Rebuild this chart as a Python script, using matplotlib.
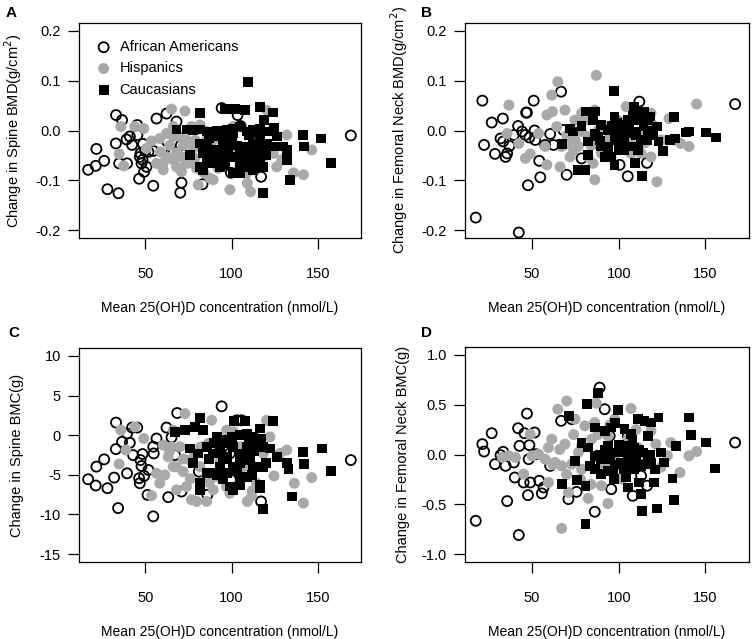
import matplotlib
matplotlib.use("Agg")
import matplotlib.pyplot as plt

plt.rcParams['font.family'] = ['Liberation Sans', 'DejaVu Sans']
plt.rcParams['axes.unicode_minus'] = False

# ---- panel A: change in spine BMD ----
aa_x_a = [16.7, 21.1, 21.5, 26.0, 27.9, 32.9, 32.8, 34.3, 34.7, 36.4, 39.0, 39.3, 40.9, 42.2,
          45.2, 45.3, 46.7, 46.3, 47.1, 47.7, 48.3, 49.2, 48.6, 49.8, 50.6, 51.7, 54.5, 54.5,
          56.4, 62.2, 62.6, 65.1, 66.5, 68.0, 70.9, 70.2, 70.5, 83.1, 94.2, 99.6, 105.2, 103.5,
          117.1, 169.2]
aa_y_a = [-0.079, -0.071, -0.037, -0.061, -0.118, 0.031, -0.026, -0.126, -0.066, 0.021, -0.018,
          -0.066, -0.012, -0.029, 0.011, -0.009, -0.053, -0.097, -0.046, -0.066, -0.059, -0.083,
          -0.027, -0.041, -0.073, -0.043, -0.041, -0.111, 0.024, 0.034, -0.022, -0.044, -0.043,
          0.018, -0.105, -0.125, -0.030, -0.108, 0.045, -0.085, 0.009, 0.031, -0.093, -0.010]
hi_x_a = [35.7, 34.7, 37.4, 43.8, 49.0, 53.5, 58.3, 58.7, 60.3, 65.1, 72.9, 66.1, 62.2, 66.1,
          66.1, 70.0, 70.9, 73.8, 73.8, 76.7, 77.7, 79.7, 80.6, 81.6, 85.5, 86.4, 87.4, 89.3,
          92.2, 93.2, 97.1, 99.0, 101.0, 106.8, 109.1, 111.0, 113.6, 118.4, 120.3, 122.3, 124.2,
          120.3, 126.2, 132.0, 135.9, 141.7, 146.5, 60.3, 56.4, 89.3, 93.2, 83.5, 99.0, 104.8,
          108.7, 114.5, 129.1, 62.2, 68.0, 70.9, 78.7, 85.5, 50.6,
          64, 68, 72, 75, 79, 84, 88, 95, 103, 110]
hi_y_a = [0.008, -0.047, -0.071, 0.008, 0.004, -0.021, -0.016, -0.043, -0.065, 0.043, 0.039,
          0.008, -0.006, -0.012, -0.059, -0.012, -0.053, -0.019, -0.066, 0.008, -0.036, -0.076,
          -0.109, 0.011, -0.002, -0.053, -0.096, -0.099, -0.076, -0.006, -0.019, -0.119, 0.008,
          -0.053, -0.106, -0.123, -0.073, -0.053, -0.043, -0.039, -0.046, 0.041, -0.073, -0.009,
          -0.085, -0.089, -0.039, -0.079, -0.066, -0.019, -0.053, -0.032, -0.032, -0.073, -0.086,
          -0.019, -0.059, -0.053, -0.073, -0.083, -0.056, -0.019, -0.036,
          -0.030, -0.045, -0.030, -0.065, -0.020, -0.085, -0.060, -0.050, -0.040, -0.080]
ca_x_a = [109.3, 81.6, 96.1, 101.9, 107.8, 116.5, 124.2, 68.0, 73.8, 77.7, 81.6, 85.5, 91.3,
          97.1, 101.0, 104.8, 108.7, 112.6, 116.5, 120.3, 124.6, 75.8, 81.6, 83.5, 81.6, 85.5,
          89.3, 91.3, 93.2, 95.2, 99.0, 101.0, 104.8, 106.8, 110.7, 112.6, 116.5, 118.4, 120.3,
          122.3, 126.2, 130.0, 132.0, 132.0, 133.9, 118.0, 141.3, 142.1, 151.9, 157.6, 101.0,
          104.8, 108.7, 97.1, 89.3, 83.5, 112.6, 116.5, 126.2, 122.3, 101.0, 95.2, 85.5, 89.3,
          112.6, 104.8,
          95, 98, 103, 107, 110, 114, 118, 92, 96, 105, 112, 87, 100, 115, 120, 118.8]
ca_y_a = [0.098, 0.035, 0.043, 0.043, 0.041, 0.047, 0.036, 0.002, 0.002, 0.001, 0.002, -0.002,
          0.000, 0.001, 0.004, 0.008, -0.002, 0.001, 0.004, -0.002, 0.006, -0.049, -0.073, -0.079,
          -0.026, -0.032, -0.039, -0.053, -0.073, -0.019, -0.026, -0.053, -0.066, -0.032, -0.039,
          -0.059, -0.053, -0.073, -0.026, -0.032, -0.032, -0.032, -0.039, -0.059, -0.099, -0.125,
          -0.009, -0.032, -0.016, -0.065, -0.086, -0.086, -0.073, -0.053, -0.012, -0.046, -0.026,
          -0.019, -0.012, -0.002, -0.006, -0.039, -0.059, -0.066, -0.079, -0.046,
          -0.020, -0.040, -0.030, -0.060, -0.010, -0.045, -0.035, -0.060, -0.070, -0.075, -0.065,
          -0.015, -0.015, -0.005, -0.050, 0.021]

# ---- panel B: change in femoral neck BMD ----
aa_x_b = [17.6, 21.4, 22.4, 26.8, 28.7, 33.2, 31.9, 33.4, 34.8, 35.7, 37.0, 39.5, 42.0, 42.4,
          44.3, 46.6, 47.1, 46.2, 48.5, 47.7, 51.0, 51.5, 51.9, 54.2, 54.8, 57.6, 60.5, 62.4,
          66.8, 68.1, 70.0, 78.6, 87.7, 100.5, 105.2, 111.9, 116.3, 167.1]
aa_y_b = [-0.175, 0.060, -0.029, 0.016, -0.047, 0.024, -0.016, -0.022, -0.053, -0.046, -0.031,
          -0.009, 0.009, -0.205, -0.002, 0.036, 0.036, -0.009, -0.014, -0.110, 0.060, 0.000,
          -0.019, -0.061, -0.094, -0.029, -0.007, -0.029, 0.078, 0.001, -0.089, -0.056, -0.026,
          -0.069, -0.092, 0.058, -0.065, 0.053]
hi_x_b = [36.7, 35.7, 42.4, 46.2, 49.0, 53.8, 57.6, 58.6, 58.6, 61.4, 64.9, 61.8, 64.3, 66.2,
          69.0, 70.0, 71.9, 74.8, 76.7, 78.6, 82.4, 85.2, 86.2, 87.1, 86.2, 90.0, 93.8, 97.6,
          101.4, 104.3, 107.1, 110.9, 112.9, 118.6, 118.6, 122.0, 124.3, 129.0, 131.9, 135.7,
          140.5, 144.9, 91.9, 82.4, 74.8, 95.6, 105.2, 67.1, 78.6,
          70, 74, 80, 84, 88, 92, 100, 108, 115, 120]
hi_y_b = [0.051, -0.006, -0.026, -0.056, -0.047, -0.006, -0.032, -0.069, 0.031, 0.071, 0.098,
          0.038, 0.008, -0.073, 0.041, -0.026, -0.053, 0.021, -0.032, -0.002, -0.012, -0.066,
          -0.099, 0.111, 0.041, -0.046, -0.019, -0.006, -0.032, 0.048, -0.046, -0.006, -0.046,
          0.035, -0.053, -0.103, -0.019, 0.024, -0.019, -0.026, -0.032, 0.053, 0.008, -0.053,
          -0.019, -0.053, -0.019, -0.032, 0.035,
          -0.010, -0.040, 0.020, -0.030, 0.000, -0.035, 0.020, -0.030, -0.025, 0.010]
ca_x_b = [97.2, 108.7, 114.4, 118.2, 131.9, 80.9, 86.2, 67.1, 71.9, 73.8, 78.6, 82.4, 82.4,
          76.7, 80.5, 86.2, 90.0, 91.9, 93.8, 95.6, 97.6, 97.6, 99.5, 101.4, 103.3, 105.2, 107.1,
          109.0, 109.4, 112.9, 113.5, 114.3, 116.2, 118.1, 121.9, 122.9, 125.7, 129.5, 132.4,
          139.0, 140.5, 150.4, 156.1, 93.8, 105.2, 111.0, 88.1, 97.6, 103.3, 90.0, 101.4, 116.7,
          96, 99, 102, 106, 108, 110, 113, 117, 120, 94, 100, 104, 111, 85, 89]
ca_y_b = [0.080, 0.048, 0.038, 0.028, 0.027, 0.038, 0.038, -0.027, 0.004, -0.002, 0.009,
          -0.022, -0.049, -0.079, -0.079, -0.006, 0.011, -0.053, -0.032, -0.053, 0.028, -0.069,
          -0.006, 0.008, -0.019, 0.021, -0.032, -0.002, -0.066, -0.019, -0.092, 0.008, -0.019,
          -0.006, 0.008, -0.022, -0.042, -0.019, -0.016, -0.004, -0.002, -0.004, -0.014, 0.001,
          -0.006, 0.021, -0.012, -0.019, -0.039, -0.032, -0.012, 0.021,
          0.010, 0.015, -0.025, 0.005, 0.030, -0.010, 0.030, 0.000, -0.010, -0.045, -0.040,
          0.012, -0.040, 0.020, -0.020]

# ---- panel C: change in spine BMC ----
aa_x_c = [16.7, 21.1, 21.5, 26.0, 27.9, 31.8, 32.8, 32.9, 34.1, 36.4, 39.3, 39.3, 40.9, 42.2,
          42.8, 45.2, 46.3, 46.7, 47.1, 47.7, 48.3, 49.2, 51.2, 51.7, 54.5, 54.5, 54.8, 56.4,
          62.2, 63.2, 65.1, 67.1, 68.4, 70.9, 81.0, 85.9, 94.2, 99.0, 99.6, 102.9, 105.8, 117.1,
          169.2]
aa_y_c = [-5.56, -6.35, -3.97, -3.05, -6.69, -5.35, -1.76, 1.59, -9.20, -0.84, -4.81, 0.21,
          -0.96, 0.96, -2.51, 0.96, -5.43, -6.06, -3.14, -3.89, -2.38, -5.14, -7.53, -4.39,
          -10.24, -1.46, -2.30, -0.42, 0.96, -7.82, -0.29, -2.51, 2.80, -7.11, -4.60, -7.53, 3.64,
          -2.30, -5.64, 1.88, 1.88, -8.36, -3.14]
hi_x_c = [35.7, 34.7, 38.6, 43.8, 49.0, 53.5, 56.4, 58.3, 60.3, 61.2, 63.2, 66.1, 66.1, 68.0,
          70.0, 71.9, 72.9, 73.8, 76.7, 78.7, 79.7, 81.6, 85.5, 86.4, 88.4, 89.3, 93.2, 97.1,
          99.0, 101.0, 106.8, 109.1, 111.6, 114.5, 118.4, 120.3, 122.3, 124.6, 132.0, 136.4,
          141.7, 146.5, 83.5, 91.3, 75.8, 104.8, 112.6, 128.1, 85.5, 65.1,
          64, 68, 72, 76, 82, 87, 92, 97, 104, 112]
hi_y_c = [0.63, -3.64, -1.88, 1.05, -0.42, -7.61, -4.81, -6.06, -1.25, -5.02, -2.72, 0.63,
          -3.97, -6.90, -1.46, -4.60, 2.72, -6.48, -8.15, -2.30, -8.36, -3.97, -8.36, -1.05, 1.88,
          -6.90, -3.14, 0.63, -7.32, 0.42, -3.97, -8.36, -7.73, -6.06, -2.30, 1.88, -0.21, -5.14,
          -1.88, -6.06, -8.57, -5.35, -1.46, -5.23, -3.14, -1.46, -3.97, -2.30, -5.23, -1.46,
          -2.0, -4.0, -3.0, -5.5, -1.5, -6.0, -2.0, -6.5, -4.0, -7.0]
ca_x_c = [81.6, 101.6, 107.8, 124.2, 116.5, 67.1, 72.9, 78.7, 83.5, 91.3, 97.1, 104.8, 108.7,
          112.6, 75.8, 80.6, 85.5, 89.3, 93.2, 97.1, 101.0, 104.8, 108.7, 114.5, 118.4, 122.3,
          126.2, 132.0, 133.0, 134.9, 141.3, 142.1, 152.3, 157.8, 118.4, 81.6, 81.6, 85.5, 91.3,
          97.1, 99.0, 101.0, 104.8, 108.7, 116.5, 116.5, 118.4, 112.6, 101.0, 93.2, 89.3, 110.7,
          104.8, 93.2, 77.7,
          90, 95, 98, 103, 106, 110, 113, 117, 120, 87, 95, 105, 112, 100, 108]
ca_y_c = [2.22, 1.80, 1.80, 1.80, 0.84, 0.42, 0.63, 1.05, 0.63, -0.21, -0.63, 0.00, 0.21,
          -0.21, -1.67, -2.30, -1.46, -2.30, -1.88, -2.72, -1.46, -2.30, -1.46, -1.05, -1.46,
          -1.67, -2.72, -3.55, -4.31, -7.73, -2.09, -3.64, -1.67, -4.47, -9.32, -6.06, -6.90,
          -4.81, -5.02, -4.81, -6.48, -6.90, -5.64, -5.23, -6.27, -6.69, -3.97, -3.97, -3.97,
          -3.97, -4.81, -2.72, -3.55, -0.63, -3.55,
          -1.0, -3.0, -1.0, -4.5, -2.8, -0.5, -2.0, -0.5, -3.5, -3.0, -5.5, -6.3, -5.0, -0.2, -3.2]

# ---- panel D: change in femoral neck BMC ----
aa_x_d = [17.6, 21.4, 22.4, 26.8, 28.7, 31.9, 33.4, 34.8, 35.7, 39.5, 40.1, 42.0, 42.4, 42.8,
          45.2, 45.7, 47.1, 47.7, 48.1, 48.5, 49.0, 51.5, 52.3, 54.2, 55.7, 56.7, 60.5, 66.8,
          71.0, 75.7, 72.9, 86.2, 89.0, 91.9, 95.7, 108.1, 112.9, 116.3, 167.1, 94.8, 105.2]
aa_y_d = [-0.666, 0.104, 0.030, 0.214, -0.097, -0.007, 0.027, -0.114, -0.468, -0.080, -0.231,
          0.264, -0.809, 0.087, -0.281, 0.214, 0.411, -0.408, -0.047, 0.094, -0.281, 0.221,
          0.003, -0.264, -0.391, -0.331, -0.114, 0.338, -0.448, -0.375, 0.355, -0.575, 0.672,
          0.455, -0.348, -0.415, -0.214, -0.314, 0.120, 0.187, 0.187]
hi_x_d = [32.9, 36.7, 40.5, 45.2, 49.0, 50.0, 53.8, 57.6, 59.5, 59.5, 61.4, 64.9, 63.3, 67.1,
          67.1, 70.0, 69.0, 71.0, 72.9, 74.8, 76.7, 78.6, 80.5, 82.4, 86.2, 87.1, 88.1, 90.0,
          93.8, 93.8, 97.6, 101.4, 105.2, 107.1, 110.9, 112.9, 118.6, 121.4, 124.3, 128.1, 130.0,
          135.3, 140.5, 144.9, 84.3, 97.6, 78.6, 105.2, 91.9,
          62, 66, 70, 74, 78, 84, 88, 95, 102, 110]
hi_y_d = [-0.030, -0.013, -0.030, -0.197, 0.204, -0.013, 0.003, -0.047, -0.281, 0.070, 0.154,
          0.455, -0.080, -0.114, -0.742, 0.538, 0.104, -0.381, -0.097, 0.355, 0.020, -0.147,
          0.288, -0.441, 0.321, 0.515, -0.030, -0.314, -0.492, 0.187, 0.355, -0.114, 0.154, 0.462,
          0.070, -0.080, 0.237, 0.104, -0.130, -0.013, 0.120, -0.181, -0.013, 0.030, 0.154,
          -0.013, 0.087, -0.047, -0.114,
          -0.10, 0.05, -0.20, 0.20, -0.25, -0.30, 0.20, 0.30, -0.25, 0.25]
ca_x_d = [67.1, 71.5, 74.8, 76.1, 78.6, 80.9, 80.9, 81.5, 82.4, 83.3, 86.2, 86.2, 88.1, 90.0,
          91.9, 93.8, 93.8, 95.7, 97.2, 98.0, 99.5, 101.4, 103.3, 104.3, 105.2, 107.1, 109.0,
          109.0, 110.9, 111.9, 112.9, 113.5, 114.0, 114.9, 116.7, 118.6, 118.6, 120.5, 122.0,
          122.9, 124.3, 126.2, 131.0, 131.9, 132.9, 140.3, 141.6, 150.4, 155.7, 93.8, 97.6, 101.4,
          105.2, 109.0, 112.9, 90.0, 86.2, 116.7, 103.3,
          92, 95, 98, 100, 103, 106, 108, 110, 112, 115, 118, 121, 97, 104, 89]
ca_y_d = [-0.298, 0.388, -0.064, -0.258, 0.114, -0.314, -0.699, 0.505, 0.070, -0.114, -0.013,
          0.271, 0.615, -0.197, 0.237, 0.087, -0.164, 0.271, -0.247, 0.314, 0.448, 0.020, 0.254,
          -0.231, -0.331, 0.204, 0.070, -0.147, 0.355, -0.281, -0.398, -0.565, 0.020, 0.338,
          0.187, 0.321, -0.080, -0.281, -0.542, 0.371, 0.020, -0.080, -0.241, -0.455, 0.087,
          0.371, 0.194, 0.120, -0.140, -0.047, 0.020, -0.080, -0.047, -0.013, -0.114, -0.047,
          -0.147, -0.047, 0.087,
          0.05, -0.05, -0.10, 0.10, -0.15, 0.00, 0.15, -0.05, 0.05, -0.10, 0.00, -0.15, -0.20,
          -0.08, 0.00]

panels = [
    ("A", "Change in Spine BMD(g/cm$^2$)", aa_x_a, aa_y_a, hi_x_a, hi_y_a, ca_x_a, ca_y_a,
     (-0.216, 0.216), [-0.2, -0.1, 0.0, 0.1, 0.2], ["-0.2", "-0.1", "0.0", "0.1", "0.2"]),
    ("B", "Change in Femoral Neck BMD(g/cm$^2$)", aa_x_b, aa_y_b, hi_x_b, hi_y_b, ca_x_b, ca_y_b,
     (-0.216, 0.216), [-0.2, -0.1, 0.0, 0.1, 0.2], ["-0.2", "-0.1", "0.0", "0.1", "0.2"]),
    ("C", "Change in Spine BMC(g)", aa_x_c, aa_y_c, hi_x_c, hi_y_c, ca_x_c, ca_y_c,
     (-16, 11), [-15, -10, -5, 0, 5, 10], ["-15", "-10", "-5", "0", "5", "10"]),
    ("D", "Change in Femoral Neck BMC(g)", aa_x_d, aa_y_d, hi_x_d, hi_y_d, ca_x_d, ca_y_d,
     (-1.08, 1.08), [-1.0, -0.5, 0.0, 0.5, 1.0], ["-1.0", "-0.5", "0.0", "0.5", "1.0"]),
]

# axes boxes in pixels (left, top, right, bottom)
boxes = [(79, 23, 361, 238), (465, 23, 749, 238), (79, 348, 361, 562), (465, 347, 749, 562)]
letter_pos = [(6, 13), (421, 13), (8, 333), (421, 333)]

W, H = 752, 639
fig = plt.figure(figsize=(W / 100, H / 100), dpi=100)

gray = "#a9a9a9"
for i, (letter, ylab, ax_, ay_, hx, hy, cx, cy, ylim, yt, ytl) in enumerate(panels):
    l, t, r, b = boxes[i]
    ax = fig.add_axes([l / W, 1 - b / H, (r - l) / W, (b - t) / H])
    ax.scatter(ax_, ay_, s=52, facecolors="none", edgecolors="black", linewidths=1.3,
               label="African Americans", zorder=2)
    ax.scatter(hx, hy, s=62, color=gray, edgecolors="none", label="Hispanics", zorder=3)
    ax.scatter(cx, cy, s=50, marker="s", color="black", edgecolors="none",
               label="Caucasians", zorder=4)
    ax.set_xlim(11.4, 175.1)
    ax.set_ylim(*ylim)
    ax.set_xticks([50, 100, 150])
    ax.set_yticks(yt)
    ax.set_yticklabels(ytl)
    ax.tick_params(direction="out", length=8, width=0.9, labelsize=10.5, colors="black")
    ax.tick_params(axis="x", pad=13)
    ax.tick_params(axis="y", pad=5)
    for sp in ax.spines.values():
        sp.set_linewidth(0.9)
    ax.set_xlabel("Mean 25(OH)D concentration (nmol/L)", fontsize=10, labelpad=14)
    ax.set_ylabel(ylab, fontsize=10.5)
    ax.yaxis.set_label_coords(-0.195, 0.5)
    fig.text(letter_pos[i][0] / W, 1 - letter_pos[i][1] / H, letter, fontsize=11,
             fontweight="bold", va="center", ha="left")
    if i == 0:
        ax.legend(loc="upper left", bbox_to_anchor=(0.015, 0.975), frameon=False,
                  fontsize=10.5, handletextpad=0.5, labelspacing=0.5, borderpad=0.3,
                  handlelength=1.2)

fig.savefig("out.png", dpi=100)
